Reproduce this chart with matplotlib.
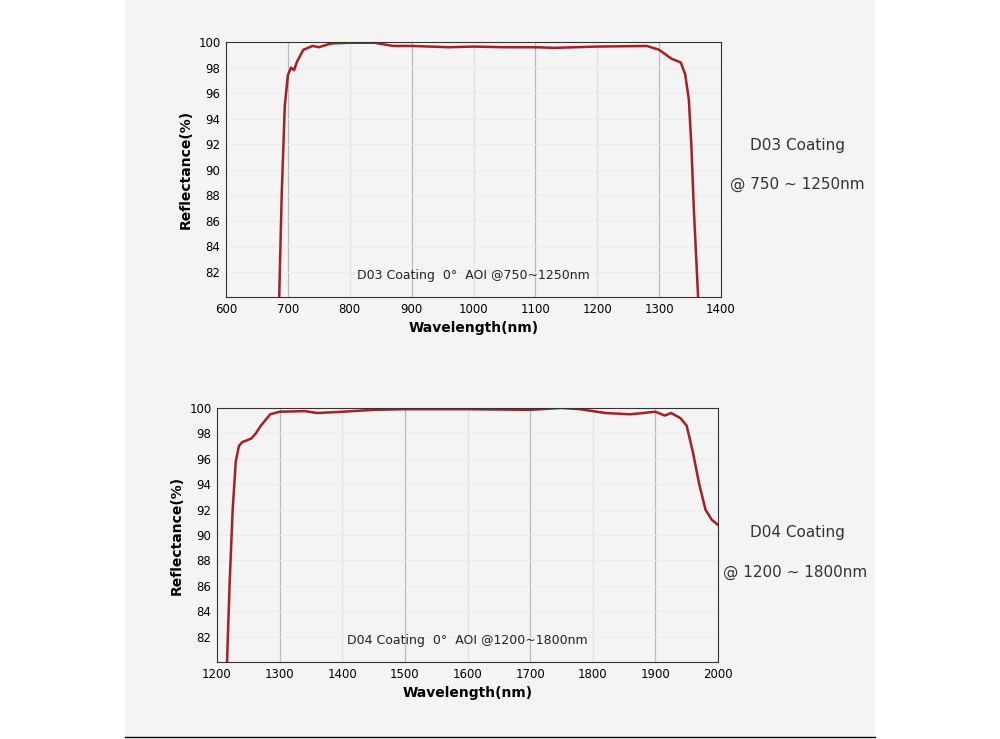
import matplotlib.pyplot as plt
import matplotlib.patches as mpatches

# D03 curve
wl_d03 = [686, 690, 695, 700, 705, 710, 715, 725, 740, 750, 770, 800, 840, 870, 900,
          960, 1000, 1050, 1100, 1130, 1200, 1280, 1300, 1320, 1335, 1342, 1348,
          1352, 1356, 1360, 1363]
r_d03 = [80, 88, 95, 97.4, 98.0, 97.8, 98.5, 99.4, 99.7, 99.6, 99.9, 99.95, 99.95,
         99.7, 99.7, 99.6, 99.65, 99.6, 99.6, 99.55, 99.65, 99.7, 99.4, 98.7, 98.4,
         97.5, 95.5, 92, 87, 83, 80]

# D04 curve
wl_d04 = [1216, 1220, 1225, 1230, 1235, 1240, 1255, 1262, 1270, 1285, 1300, 1340,
          1360, 1400, 1450, 1500, 1600, 1700, 1750, 1780, 1820, 1860, 1900, 1915,
          1925, 1940, 1950, 1960, 1970, 1980, 1990, 2000]
r_d04 = [80, 86, 92, 95.8, 97.0, 97.3, 97.6, 98.0, 98.6, 99.5, 99.7, 99.75, 99.6,
         99.7, 99.85, 99.9, 99.9, 99.85, 100, 99.9, 99.6, 99.5, 99.7, 99.4, 99.6,
         99.2, 98.6, 96.5, 94, 92, 91.2, 90.8]

yticks = [82, 84, 86, 88, 90, 92, 94, 96, 98, 100]
xt_d03 = [600, 700, 800, 900, 1000, 1100, 1200, 1300, 1400]
xt_d04 = [1200, 1300, 1400, 1500, 1600, 1700, 1800, 1900, 2000]

fig = plt.figure(figsize=(10, 7.39), dpi=100)
fig.patch.set_facecolor('white')
fig.patches.append(mpatches.Rectangle((0.125, 0.003), 0.75, 0.997, transform=fig.transFigure,
                                      facecolor='#f4f4f4', edgecolor='none', zorder=-10))
fig.add_artist(plt.Line2D([0.125, 0.875], [0.003, 0.003], color='black', lw=1))

def panel(rect, x, y, xt, label, darkgrid):
    ax = fig.add_axes(rect)
    ax.set_facecolor('#f4f4f4')
    for v in xt[1:-1]:
        ax.axvline(v, color='#bbbbbb' if v in darkgrid else '#e2e2e2', lw=0.9, zorder=0)
    for v in yticks:
        ax.axhline(v, color='#ebebeb', lw=0.6, zorder=0)
    ax.plot(x, y, color='#a81e22', lw=1.8)
    ax.set_xlim(xt[0], xt[-1])
    ax.set_ylim(80, 100)
    ax.set_xticks(xt)
    ax.set_yticks(yticks)
    ax.tick_params(labelsize=8.5, length=0, pad=4)
    ax.set_xlabel('Wavelength(nm)', fontsize=10, fontweight='bold')
    ax.set_ylabel('Reflectance(%)', fontsize=10, fontweight='bold')
    for s in ax.spines.values():
        s.set_color('#333333')
    ax.text(0.5, 0.07, label, transform=ax.transAxes, ha='center', fontsize=9, color='#222222')
    return ax

panel([0.226, 0.598, 0.495, 0.345], wl_d03, r_d03, xt_d03,
      'D03 Coating  0°  AOI @750~1250nm', [700, 900, 1100, 1300])
panel([0.217, 0.104, 0.501, 0.344], wl_d04, r_d04, xt_d04,
      'D04 Coating  0°  AOI @1200~1800nm', [1300, 1500, 1700, 1900])

fig.text(0.797, 0.803, 'D03 Coating', ha='center', va='center', fontsize=11, color='#333333')
fig.text(0.797, 0.750, '@ 750 ~ 1250nm', ha='center', va='center', fontsize=11, color='#333333')
fig.text(0.797, 0.279, 'D04 Coating', ha='center', va='center', fontsize=11, color='#333333')
fig.text(0.795, 0.226, '@ 1200 ~ 1800nm', ha='center', va='center', fontsize=11, color='#333333')

fig.savefig('out.png', dpi=100)
